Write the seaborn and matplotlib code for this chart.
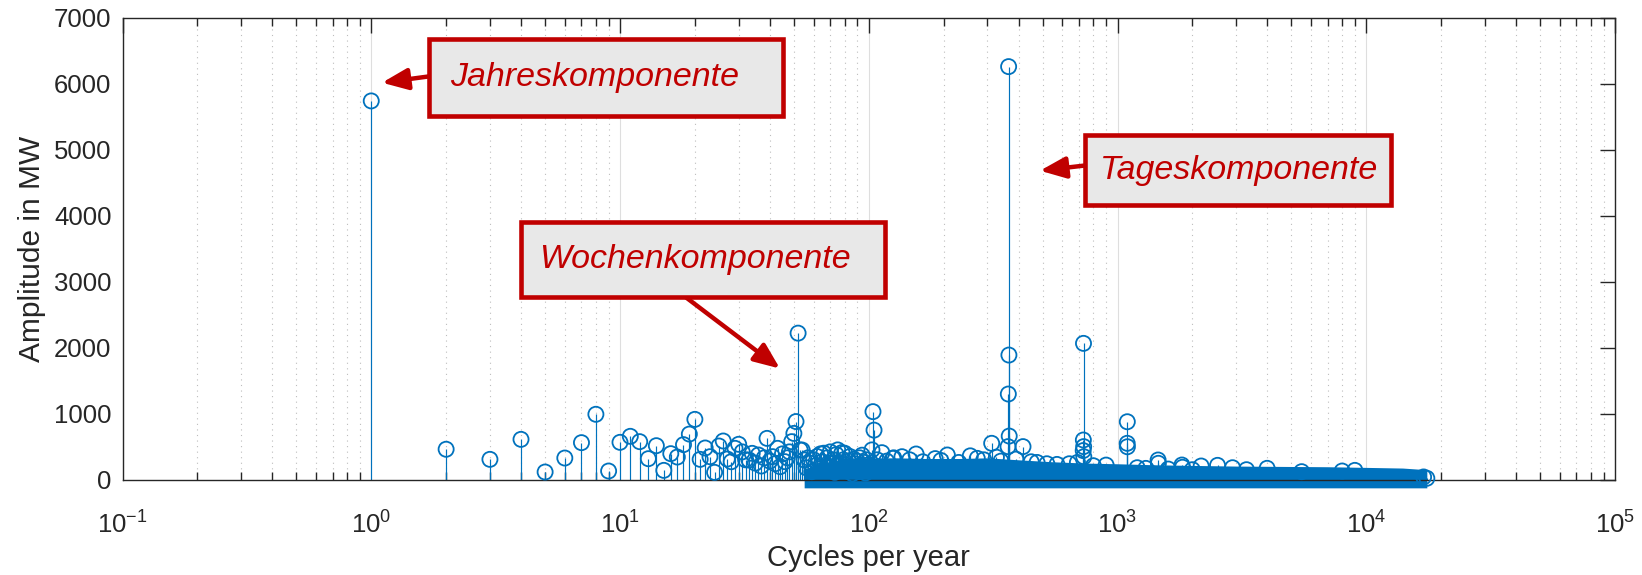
import numpy as np
import pandas as pd
import seaborn as sns
import matplotlib
matplotlib.use("Agg")
import matplotlib.pyplot as plt
from matplotlib import font_manager as fm
from matplotlib.patches import FancyArrowPatch, Rectangle
from matplotlib.ticker import FixedLocator, FixedFormatter, NullFormatter

# ---------------- data ----------------
low_freq = list(range(1, 101))
low_amp = [5740, 460, 307, 610, 115, 327, 560, 990, 130, 565,
           656, 575, 317, 514, 140, 393, 342, 530, 690, 913,
           307, 479, 347, 110, 509, 585, 312, 271, 474, 535,
           420, 300, 297, 398, 250, 373, 206, 330, 625, 280,
           348, 240, 474, 196, 390, 272, 330, 420, 575, 700,
           880, 2220, 450, 448, 298, 180, 330, 250, 120, 300,
           210, 350, 160, 390, 270, 400, 140, 330, 250, 420,
           190, 300, 110, 380, 450, 260, 170, 410, 300, 400,
           220, 130, 280, 350, 200, 90, 310, 240, 160, 280,
           120, 330, 210, 370, 150, 260, 100, 300, 220, 180]

peak_freq = [103, 104, 105, 108, 113, 125, 136, 155, 185, 207, 256, 273, 312,
             363, 364, 365, 366, 367, 417, 728, 729, 730, 731, 732,
             1094, 1095, 1096, 1456, 1460, 1815, 1825, 2170, 2525, 3995,
             17000, 17520]
peak_amp = [450, 1030, 750, 300, 408, 322, 347, 388, 318, 373, 360, 322, 550,
            500, 1297, 6260, 1888, 660, 500, 440, 600, 2065, 500, 347,
            550, 877, 498, 297, 247, 221, 187, 206, 216, 171,
            40, 20]

# smaller rings that stick out of the dense band
cloud_freq = [118, 126, 146, 165, 195, 230, 290, 326, 340, 390, 450, 475,
              520, 571, 640, 690, 800, 900, 1200, 1300, 1600, 2000, 2900,
              3300, 5500, 8000, 9000]
cloud_amp = [280, 330, 300, 270, 290, 260, 300, 340, 280, 310, 270, 260,
             240, 230, 240, 260, 210, 220, 180, 170, 160, 150, 180,
             150, 120, 130, 140]

# envelope of the dense, fully overlapping marker band
band_freq = [55, 65, 80, 100, 130, 170, 230, 300, 400, 550, 750, 1000,
             1400, 2000, 3000, 4500, 7000, 10000, 14000, 17520]
band_top = [160, 250, 310, 330, 330, 320, 320, 330, 300, 270, 250, 240,
            225, 215, 205, 200, 195, 185, 175, 150]
band_floor = -125

xtick_vals = [0.1, 1, 10, 100, 1000, 10000, 100000]
xtick_labels = [r"$\mathregular{10^{-1}}$", r"$\mathregular{10^{0}}$",
                r"$\mathregular{10^{1}}$", r"$\mathregular{10^{2}}$",
                r"$\mathregular{10^{3}}$", r"$\mathregular{10^{4}}$",
                r"$\mathregular{10^{5}}$"]
ytick_vals = [0, 1000, 2000, 3000, 4000, 5000, 6000, 7000]
ytick_labels = [str(v) for v in ytick_vals]

annotations = ["Jahreskomponente", "Tageskomponente", "Wochenkomponente"]

# ---------------- style ----------------
sns.set_theme(style="white")
plt.rcParams["font.family"] = ["Liberation Sans", "DejaVu Sans"]
plt.rcParams["mathtext.fontset"] = "custom"
plt.rcParams["mathtext.rm"] = "Liberation Sans"
plt.rcParams["axes.unicode_minus"] = False

BLUE = "#0072BD"
RED = "#C00000"
DARK = "#262626"

W, H = 1642, 575
fig = plt.figure(figsize=(W / 100, H / 100), dpi=100)
L, R, T, B = 122.5, 1615, 17.8, 479.6
ax = fig.add_axes([L / W, 1 - B / H, (R - L) / W, (B - T) / H])

df_low = pd.DataFrame({"f": low_freq, "a": low_amp})
df_peak = pd.DataFrame({"f": peak_freq, "a": peak_amp})
df_cloud = pd.DataFrame({"f": cloud_freq, "a": cloud_amp})
df_all = pd.concat([df_low, df_peak, df_cloud], ignore_index=True)

# stems
ax.vlines(df_all["f"], 0, df_all["a"], color=BLUE, lw=0.85, zorder=2)
# dense band
ax.fill_between(band_freq, band_floor, band_top, color=BLUE, lw=0,
                zorder=2.5, clip_on=False)
# markers
sns.scatterplot(data=df_all, x="f", y="a", ax=ax, marker="o", s=118,
                color="none", edgecolor=BLUE, linewidth=1.3, zorder=3,
                clip_on=False, legend=False)

ax.set_xscale("log")
ax.set_xlim(0.1, 1e5)
ax.set_ylim(0, 7000)

ax.xaxis.set_major_locator(FixedLocator(xtick_vals))
ax.xaxis.set_major_formatter(FixedFormatter(xtick_labels))
minor = [m * 10.0 ** e for e in range(-1, 5) for m in range(2, 10)]
ax.xaxis.set_minor_locator(FixedLocator(minor))
ax.xaxis.set_minor_formatter(NullFormatter())
ax.yaxis.set_major_locator(FixedLocator(ytick_vals))
ax.yaxis.set_major_formatter(FixedFormatter(ytick_labels))

ax.tick_params(axis="both", which="major", direction="in", length=10.8,
               width=1.0, color=DARK, labelcolor=DARK, labelsize=18.5,
               top=True, right=True)
ax.tick_params(axis="x", which="minor", direction="in", length=5.8,
               width=1.0, color=DARK, top=True, bottom=True)
ax.tick_params(axis="x", which="major", pad=23)
ax.tick_params(axis="y", which="major", pad=8)

ax.grid(False)
ax.xaxis.grid(True, which="major", color="#dedede", lw=0.8, ls="-", zorder=0)
ax.xaxis.grid(True, which="minor", color="#bdbdbd", lw=0.8, ls=(0, (1, 4)), zorder=0)
ax.set_axisbelow(True)
for s in ax.spines.values():
    s.set_color(DARK)
    s.set_linewidth(1.0)
    s.set_visible(True)

ax.set_xlabel("Cycles per year", fontsize=21, color=DARK)
ax.set_ylabel("Amplitude in MW", fontsize=21.5, color=DARK)
ax.xaxis.set_label_coords(0.5, (B - 558) / (B - T))
ax.xaxis.label.set_va("center")
ax.yaxis.set_label_coords((32 - L) / (R - L), 0.5)
ax.yaxis.label.set_va("center")

# ---------------- annotations ----------------
narrow_ok = True
try:
    fm.findfont(fm.FontProperties(family="Liberation Sans Narrow"),
                fallback_to_default=False)
except Exception:
    narrow_ok = False
afam = ["Liberation Sans Narrow", "Liberation Sans"] if narrow_ok else ["Liberation Sans"]
asize = 27 if narrow_ok else 24.5


def fx(px):
    return px / W


def fy(py):
    return 1 - py / H


boxes = [  # left, top, right, bottom, text_x
    (429, 38.7, 783, 116.2, 450),
    (1085, 135, 1391, 205, 1100),
    (520.5, 222, 885, 297.4, 539),
]
arrows = [  # tail, tip (pixels)
    ((429, 76.4), (382, 82.7)),
    ((1085, 165.5), (1040, 170.7)),
    ((686, 297.4), (780, 368.6)),
]
for (tail, tip) in arrows:
    ar = FancyArrowPatch((fx(tail[0]), fy(tail[1])), (fx(tip[0]), fy(tip[1])),
                         transform=fig.transFigure,
                         arrowstyle="-|>,head_length=0.6,head_width=0.25",
                         mutation_scale=26, color=RED, lw=3.2, zorder=5,
                         shrinkA=0, shrinkB=0)
    fig.add_artist(ar)
for (l, t, r, b, tx), txt in zip(boxes, annotations):
    rect = Rectangle((fx(l), fy(b)), fx(r) - fx(l), fy(t) - fy(b),
                     transform=fig.transFigure, facecolor="#E8E8E8",
                     edgecolor=RED, lw=3.3, zorder=6)
    fig.add_artist(rect)
    fig.text(fx(tx), fy((t + b) / 2), txt, color=RED, fontsize=asize,
             style="italic", family=afam, ha="left", va="center", zorder=7)

fig.savefig("out.png", dpi=100)
